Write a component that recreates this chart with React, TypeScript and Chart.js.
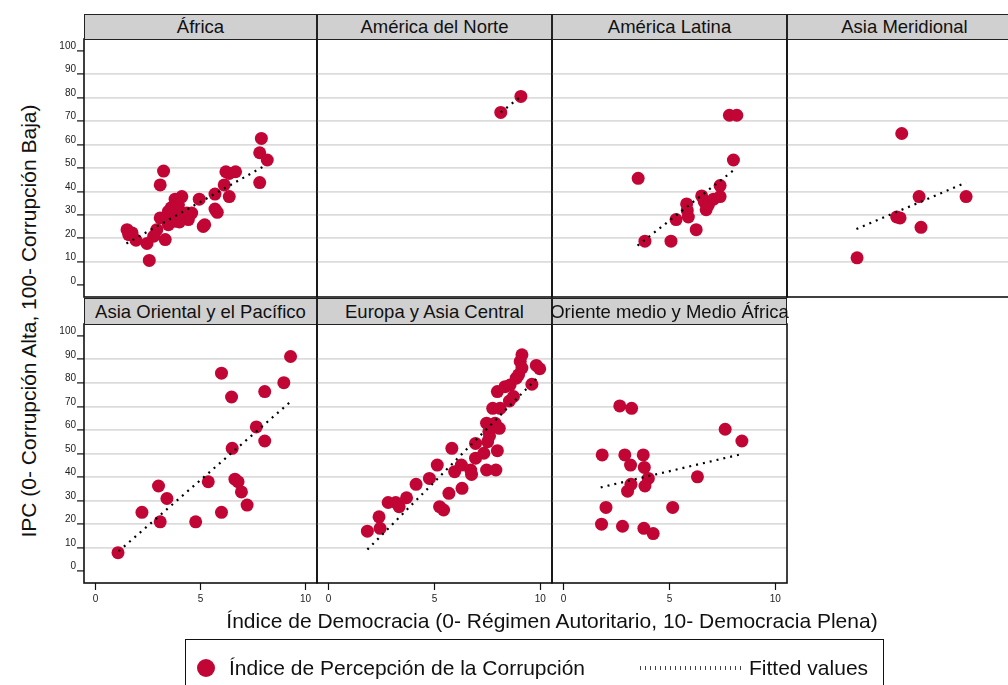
import React, { useEffect, useRef } from 'react';
import { Chart, registerables } from 'chart.js';

Chart.register(...registerables);

const FONT = '"Liberation Sans", Arial, Helvetica, sans-serif';

// ---- Data (Índice de Democracia = dem, IPC = ipc) ----
const regionNames = [
  'África',
  'América del Norte',
  'América Latina',
  'Asia Meridional',
  'Asia Oriental y el Pacífico',
  'Europa y Asia Central',
  'Oriente medio y Medio África',
];

const yTicks = [0, 10, 20, 30, 40, 50, 60, 70, 80, 90, 100];
const xTicks = [0, 5, 10];

const africaDem = [7.9, 7.82, 8.18, 7.82, 6.21, 6.67, 6.37, 6.13, 6.37, 5.69, 5.69, 5.8, 4.94, 5.13, 5.2, 4.58, 4.42, 4.11, 3.79, 3.95, 3.87, 3.47, 3.63, 3.79, 3.47, 3.08, 3.24, 3.08, 3.32, 2.92, 2.77, 2.45, 2.56, 1.93, 1.74, 1.5, 1.58, 4.35, 3.6, 4.0];
const africaIpc = [62.6, 56.5, 53.4, 43.8, 48.4, 48.4, 47.7, 42.8, 37.8, 38.9, 32.5, 31.1, 36.7, 25.1, 25.8, 30.8, 28.0, 37.8, 36.7, 34.3, 31.5, 31.5, 28.7, 27.3, 25.8, 28.7, 48.7, 42.8, 19.5, 23.7, 20.9, 17.8, 10.6, 19.2, 22.3, 23.7, 21.6, 30.8, 33.0, 27.0];
const africaFitDem = [1.47, 8.13];
const africaFitIpc = [17.8, 51.3];

const norteDem = [8.13, 9.08];
const norteIpc = [73.7, 80.5];
const norteFitDem = [8.13, 9.08];
const norteFitIpc = [73.7, 80.5];

const latinaDem = [3.52, 3.84, 5.07, 5.31, 5.81, 5.84, 5.89, 6.26, 6.52, 6.64, 6.73, 6.84, 7.08, 7.39, 7.39, 8.02, 7.83, 8.18];
const latinaIpc = [45.6, 18.8, 18.8, 28.0, 34.7, 31.9, 29.1, 23.7, 38.1, 35.7, 32.2, 34.3, 36.7, 37.8, 42.5, 53.4, 72.5, 72.5];
const latinaFitDem = [3.49, 8.15];
const latinaFitIpc = [16.9, 49.9];

const meridDem = [2.76, 4.87, 4.63, 4.79, 5.69, 5.78, 7.91];
const meridIpc = [11.7, 64.7, 29.1, 28.7, 37.8, 24.7, 37.8];
const meridFitDem = [2.73, 7.91];
const meridFitIpc = [24.0, 43.8];

const orientalDem = [1.07, 2.21, 3.0, 3.08, 3.4, 4.77, 5.37, 6.0, 6.0, 6.48, 6.51, 6.64, 6.79, 6.95, 7.22, 7.66, 8.06, 8.06, 8.97, 9.29];
const orientalIpc = [7.9, 25.0, 36.2, 21.0, 30.9, 21.0, 38.0, 25.0, 84.1, 74.0, 52.2, 39.1, 38.0, 33.7, 28.1, 61.3, 55.3, 76.3, 80.1, 91.2];
const orientalFitDem = [1.1, 9.29];
const orientalFitIpc = [8.5, 72.0];

const europaDem = [1.83, 2.38, 2.43, 2.81, 3.17, 3.33, 3.68, 4.13, 4.76, 5.13, 5.24, 5.43, 5.68, 5.82, 5.95, 6.27, 6.3, 6.71, 6.75, 6.94, 6.94, 7.33, 7.46, 7.51, 7.46, 7.57, 7.6, 7.75, 7.86, 7.9, 7.97, 7.97, 8.06, 8.1, 8.33, 8.57, 8.54, 8.73, 8.86, 8.97, 9.05, 9.13, 9.13, 9.6, 9.81, 9.97];
const europaIpc = [17.0, 23.1, 18.2, 29.2, 29.2, 27.4, 31.2, 36.9, 39.4, 45.1, 27.4, 26.0, 33.1, 52.2, 42.3, 45.1, 35.2, 43.0, 41.1, 54.3, 48.0, 50.1, 43.0, 55.0, 62.9, 59.3, 57.5, 69.2, 62.9, 43.0, 51.2, 76.3, 60.7, 69.2, 78.4, 79.1, 72.3, 74.2, 82.0, 83.4, 89.1, 91.9, 86.3, 79.4, 87.4, 86.0];
const europaFitDem = [1.83, 9.92];
const europaFitIpc = [9.2, 82.7];

const menaDem = [2.65, 3.21, 1.82, 2.89, 3.16, 3.76, 3.81, 4.0, 3.18, 3.02, 3.84, 2.0, 1.79, 2.78, 3.79, 4.23, 5.15, 6.32, 7.63, 8.42];
const menaIpc = [70.2, 69.2, 49.4, 49.4, 45.1, 49.4, 44.1, 39.4, 36.9, 34.0, 36.2, 27.1, 20.0, 19.1, 18.2, 16.0, 27.1, 40.1, 60.3, 55.3];
const menaFitDem = [1.75, 8.39];
const menaFitIpc = [35.6, 49.7];

const regionDem = [africaDem, norteDem, latinaDem, meridDem, orientalDem, europaDem, menaDem];
const regionIpc = [africaIpc, norteIpc, latinaIpc, meridIpc, orientalIpc, europaIpc, menaIpc];
const regionFitDem = [africaFitDem, norteFitDem, latinaFitDem, meridFitDem, orientalFitDem, europaFitDem, menaFitDem];
const regionFitIpc = [africaFitIpc, norteFitIpc, latinaFitIpc, meridFitIpc, orientalFitIpc, europaFitIpc, menaFitIpc];

// ---- Layout ----
const colLeft = [84, 317, 552, 787];
const colWidth = [233, 235, 235, 235];
const rowHeaderTop = [14, 298];
const rowHeaderH = [26, 27];
const rowPlotTop = [39, 324];
const rowPlotH = [258, 259];
const AXW = 40;
const AXH = 30;

const DOT = '#c10534';

const framePlugin = {
  id: 'frame',
  beforeDatasetsDraw(chart: any) {
    const { ctx, chartArea: a } = chart;
    ctx.save();
    ctx.strokeStyle = '#111';
    ctx.lineWidth = 1.6;
    ctx.strokeRect(a.left, a.top, a.right - a.left, a.bottom - a.top);
    ctx.restore();
  },
};

function zeroPad(s: any) {
  s.paddingTop = 0;
  s.paddingBottom = 0;
  s.paddingLeft = 0;
  s.paddingRight = 0;
}

function Panel(props: { idx: number; row: number; col: number; showY: boolean; showX: boolean }) {
  const { idx, row, col, showY, showX } = props;
  const ref = useRef<HTMLCanvasElement>(null);
  const plotW = colWidth[col];
  const plotH = rowPlotH[row];
  const cw = plotW + AXW + 2;
  const ch = plotH + AXH + 2;

  useEffect(() => {
    const dem = regionDem[idx];
    const ipc = regionIpc[idx];
    const fd = regionFitDem[idx];
    const fi = regionFitIpc[idx];
    const chart = new Chart(ref.current as HTMLCanvasElement, {
      type: 'scatter',
      data: {
        datasets: [
          {
            type: 'line',
            label: 'Fitted values',
            data: fd.map((x, i) => ({ x, y: fi[i] })),
            borderColor: '#000',
            borderWidth: 2.2,
            borderDash: [2, 5],
            pointRadius: 0,
            fill: false,
            tension: 0,
          } as any,
          {
            label: 'Índice de Percepción de la Corrupción',
            data: dem.map((x, i) => ({ x, y: ipc[i] })),
            backgroundColor: DOT,
            borderWidth: 0,
            pointRadius: 6.5,
            pointHoverRadius: 6.5,
          },
        ],
      },
      options: {
        responsive: false,
        animation: false,
        events: [],
        layout: { autoPadding: false, padding: { top: 2, right: 2, left: 0, bottom: 0 } },
        plugins: { legend: { display: false }, tooltip: { enabled: false } },
        scales: {
          x: {
            type: 'linear',
            min: -0.55,
            max: 10.55,
            afterBuildTicks: (s: any) => {
              s.ticks = xTicks.map((v) => ({ value: v }));
            },
            afterFit: (s: any) => {
              s.height = AXH;
              zeroPad(s);
            },
            border: { display: false },
            grid: {
              display: showX,
              drawOnChartArea: false,
              drawTicks: true,
              tickLength: 7,
              tickColor: '#111',
              tickWidth: 1.2,
            },
            ticks: {
              display: showX,
              font: { size: 10, family: FONT },
              color: '#222',
              padding: 3,
              maxRotation: 0,
              autoSkip: false,
            },
          },
          y: {
            type: 'linear',
            min: -5,
            max: 105,
            afterBuildTicks: (s: any) => {
              s.ticks = yTicks.map((v) => ({ value: v }));
            },
            afterFit: (s: any) => {
              s.width = AXW;
              zeroPad(s);
            },
            border: { display: false },
            grid: {
              display: true,
              drawOnChartArea: true,
              drawTicks: showY,
              tickLength: 7,
              tickColor: '#111',
              tickWidth: 1.2,
              lineWidth: 1.8,
              color: (c: any) =>
                c.tick && (c.tick.value === 0 || c.tick.value === 100) ? 'rgba(0,0,0,0)' : '#dcdcdc',
            },
            ticks: {
              display: showY,
              font: { size: 10, family: FONT },
              color: '#222',
              padding: 1,
              labelOffset: -4.5,
              autoSkip: false,
            },
          },
        },
      },
      plugins: [framePlugin],
    });
    return () => chart.destroy();
  }, []);

  return (
    <>
      <canvas
        ref={ref}
        width={cw}
        height={ch}
        style={{
          position: 'absolute',
          left: colLeft[col] - AXW,
          top: rowPlotTop[row] - 2,
          width: cw,
          height: ch,
        }}
      />
      <div
        style={{
          position: 'absolute',
          left: colLeft[col],
          top: rowHeaderTop[row],
          width: plotW,
          height: rowHeaderH[row],
          boxSizing: 'border-box',
          background: '#d0d0d0',
          border: '1.5px solid #222',
          display: 'flex',
          alignItems: 'center',
          justifyContent: 'center',
          whiteSpace: 'nowrap',
          fontSize: 18.5,
          color: '#111',
          overflow: 'visible',
        }}
      >
        <span>{regionNames[idx]}</span>
      </div>
    </>
  );
}

const panelPos = [
  { row: 0, col: 0, showY: true, showX: false },
  { row: 0, col: 1, showY: false, showX: false },
  { row: 0, col: 2, showY: false, showX: false },
  { row: 0, col: 3, showY: false, showX: false },
  { row: 1, col: 0, showY: true, showX: true },
  { row: 1, col: 1, showY: false, showX: true },
  { row: 1, col: 2, showY: false, showX: true },
];

export default function App() {
  return (
    <div
      style={{
        position: 'absolute',
        left: 0,
        top: 0,
        width: 1008,
        height: 685,
        overflow: 'hidden',
        background: '#fff',
        fontFamily: FONT,
        color: '#111',
      }}
    >
      {panelPos.map((p, i) => (
        <Panel key={i} idx={i} row={p.row} col={p.col} showY={p.showY} showX={p.showX} />
      ))}
      <div
        style={{
          position: 'absolute',
          left: 29,
          top: 321,
          transform: 'translate(-50%, -50%) rotate(-90deg)',
          whiteSpace: 'nowrap',
          fontSize: 21,
        }}
      >
        IPC (0- Corrupción Alta, 100- Corrupción Baja)
      </div>
      <div
        style={{
          position: 'absolute',
          left: 552,
          top: 621,
          transform: 'translate(-50%, -50%)',
          whiteSpace: 'nowrap',
          fontSize: 21,
        }}
      >
        Índice de Democracia (0- Régimen Autoritario, 10- Democracia Plena)
      </div>
      <div
        style={{
          position: 'absolute',
          left: 185,
          top: 639,
          width: 699,
          height: 70,
          boxSizing: 'border-box',
          border: '1.5px solid #111',
        }}
      >
        <div
          style={{
            position: 'absolute',
            left: 11,
            top: 19,
            width: 18,
            height: 18,
            borderRadius: '50%',
            background: DOT,
          }}
        />
        <div
          style={{
            position: 'absolute',
            left: 43,
            top: 28,
            transform: 'translateY(-50%)',
            whiteSpace: 'nowrap',
            fontSize: 21,
          }}
        >
          Índice de Percepción de la Corrupción
        </div>
        <div
          style={{
            position: 'absolute',
            left: 454,
            top: 26,
            width: 102,
            height: 4,
            background: 'repeating-linear-gradient(to right, #444 0px, #444 1px, transparent 1px, transparent 5px)',
          }}
        />
        <div
          style={{
            position: 'absolute',
            left: 563,
            top: 28,
            transform: 'translateY(-50%)',
            whiteSpace: 'nowrap',
            fontSize: 21,
          }}
        >
          Fitted values
        </div>
      </div>
    </div>
  );
}
